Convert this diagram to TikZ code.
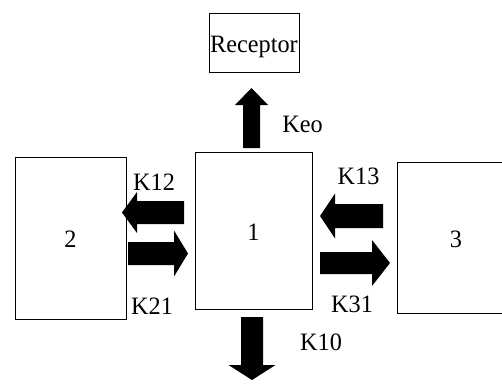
\documentclass[tikz,border=0pt]{standalone}
\usepackage{fontspec}
\setmainfont{Liberation Serif}[FakeStretch=0.97]
\begin{document}
\begin{tikzpicture}[x=1pt,y=-1pt,
  compartment/.style={draw=black, line width=1pt, inner sep=0pt,
    font=\fontsize{25}{28}\selectfont, text height=19pt, text depth=0pt},
  rate/.style={anchor=base, inner sep=0pt, font=\fontsize{25}{28}\selectfont},
  pics/fat arrow/.style n args={4}{code={
    % right-pointing block arrow: length, shaft half-width, head half-width, head length
    \fill[black] (0,-#2) -- ({#1-#4},-#2) -- ({#1-#4},-#3) -- (#1,0)
      -- ({#1-#4},#3) -- ({#1-#4},#2) -- (0,#2) -- cycle;
  }}]
\useasboundingbox (0,0) rectangle (502,383);
\clip (0,0) rectangle (502,383);

% compartments
\node[compartment, minimum width=90pt, minimum height=59pt] (rec) at (254,42.5) {Receptor};
\node[compartment, minimum width=117pt, minimum height=157pt] (c1) at (253.5,230.5) {1};
\node[compartment, minimum width=111pt, minimum height=162pt] (c2) at (70.5,238) {2};
\node[compartment, minimum width=118pt, minimum height=151pt] (c3) at (456,237.5) {3};

% transfer arrows
\pic[rotate=90]  at (251.5,148) {fat arrow={60}{8.5}{16.5}{17}};
\pic[rotate=-90] at (252,317)   {fat arrow={63}{11}{23.5}{15}};
\pic[rotate=180] at (184,212.5) {fat arrow={62}{11.5}{20.5}{15}};
\pic             at (128,253.5) {fat arrow={60}{11.5}{23}{14}};
\pic[rotate=180] at (383,216)   {fat arrow={63}{12}{22.5}{15}};
\pic             at (320,263)   {fat arrow={70}{11}{23}{18}};

% rate constants
\node[rate] (keo) at (302.5,132) {Keo};
\node[rate] (k10) at (321,350) {K10};
\node[rate] (k12) at (154,190) {K12};
\node[rate] (k21) at (152,314) {K21};
\node[rate] (k13) at (358.5,184) {K13};
\node[rate] (k31) at (352,312) {K31};
\end{tikzpicture}
\end{document}
